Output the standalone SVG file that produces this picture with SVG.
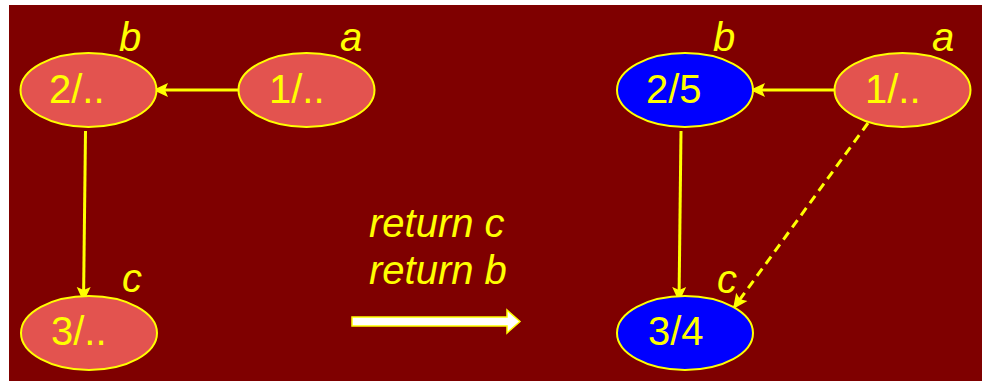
<svg xmlns="http://www.w3.org/2000/svg" width="982" height="381" viewBox="0 0 982 381">
<defs>
<style>
.red{fill:#e3534f;stroke:#ffff00;stroke-width:2}
.blue{fill:#0000ff;stroke:#ffff00;stroke-width:2}
.t{font-family:"Liberation Sans",Arial,sans-serif;font-size:40px;fill:#ffff00}
.lbl{font-family:"Liberation Sans",Arial,sans-serif;font-size:40px;font-style:italic;fill:#ffff00}
.edge{stroke:#ffff00;stroke-width:3;fill:none}
.dash{stroke-dasharray:9 6}
</style>
<marker id="ah" markerUnits="userSpaceOnUse" markerWidth="16" markerHeight="16" viewBox="0 0 16 16" refX="15" refY="8" orient="auto">
<path d="M0,1 L15,8 L0,15 L3,8 Z" fill="#ffff00"/>
</marker>
</defs>
<rect x="0" y="0" width="982" height="381" fill="#ffffff"/>
<rect x="9" y="5" width="973" height="376" fill="#7f0000"/>
<g id="connectors">
<line class="edge" x1="239" y1="90" x2="153" y2="90" marker-end="url(#ah)"/>
<line class="edge" x1="85.5" y1="131" x2="83.5" y2="302" marker-end="url(#ah)"/>
<line class="edge" x1="834" y1="90" x2="750" y2="90" marker-end="url(#ah)"/>
<line class="edge" x1="681" y1="131" x2="679" y2="302" marker-end="url(#ah)"/>
<line class="edge dash" x1="868" y1="123" x2="733" y2="309" marker-end="url(#ah)"/>
</g>
<g id="node-b-left">
<ellipse class="red" cx="88.5" cy="90" rx="68" ry="37"/>
<text class="t" x="49" y="103">2/..</text>
<text class="lbl" x="119" y="51">b</text>
</g>
<g id="node-a-left">
<ellipse class="red" cx="306.5" cy="90" rx="68" ry="37"/>
<text class="t" x="269" y="103">1/..</text>
<text class="lbl" x="340" y="51">a</text>
</g>
<g id="node-c-left">
<ellipse class="red" cx="89" cy="333" rx="68" ry="37"/>
<text class="t" x="51" y="345">3/..</text>
<text class="lbl" x="122" y="292">c</text>
</g>
<g id="node-b-right">
<ellipse class="blue" cx="685" cy="90" rx="68" ry="37"/>
<text class="t" x="646" y="103">2/5</text>
<text class="lbl" x="713" y="51">b</text>
</g>
<g id="node-a-right">
<ellipse class="red" cx="902.5" cy="90" rx="68" ry="37"/>
<text class="t" x="865" y="103">1/..</text>
<text class="lbl" x="932" y="51">a</text>
</g>
<g id="node-c-right">
<ellipse class="blue" cx="685" cy="333" rx="68" ry="37"/>
<text class="t" x="648" y="345">3/4</text>
<text class="lbl" x="717" y="293">c</text>
</g>
<g id="transition">
<text class="lbl" x="369" y="237">return c</text>
<text class="lbl" x="369" y="284">return b</text>
<path d="M352,317 L507,317 L507,310 L520,321.5 L507,333 L507,326 L352,326 Z" fill="#ffffff" stroke="#ffff00" stroke-width="1.5"/>
</g>
</svg>
